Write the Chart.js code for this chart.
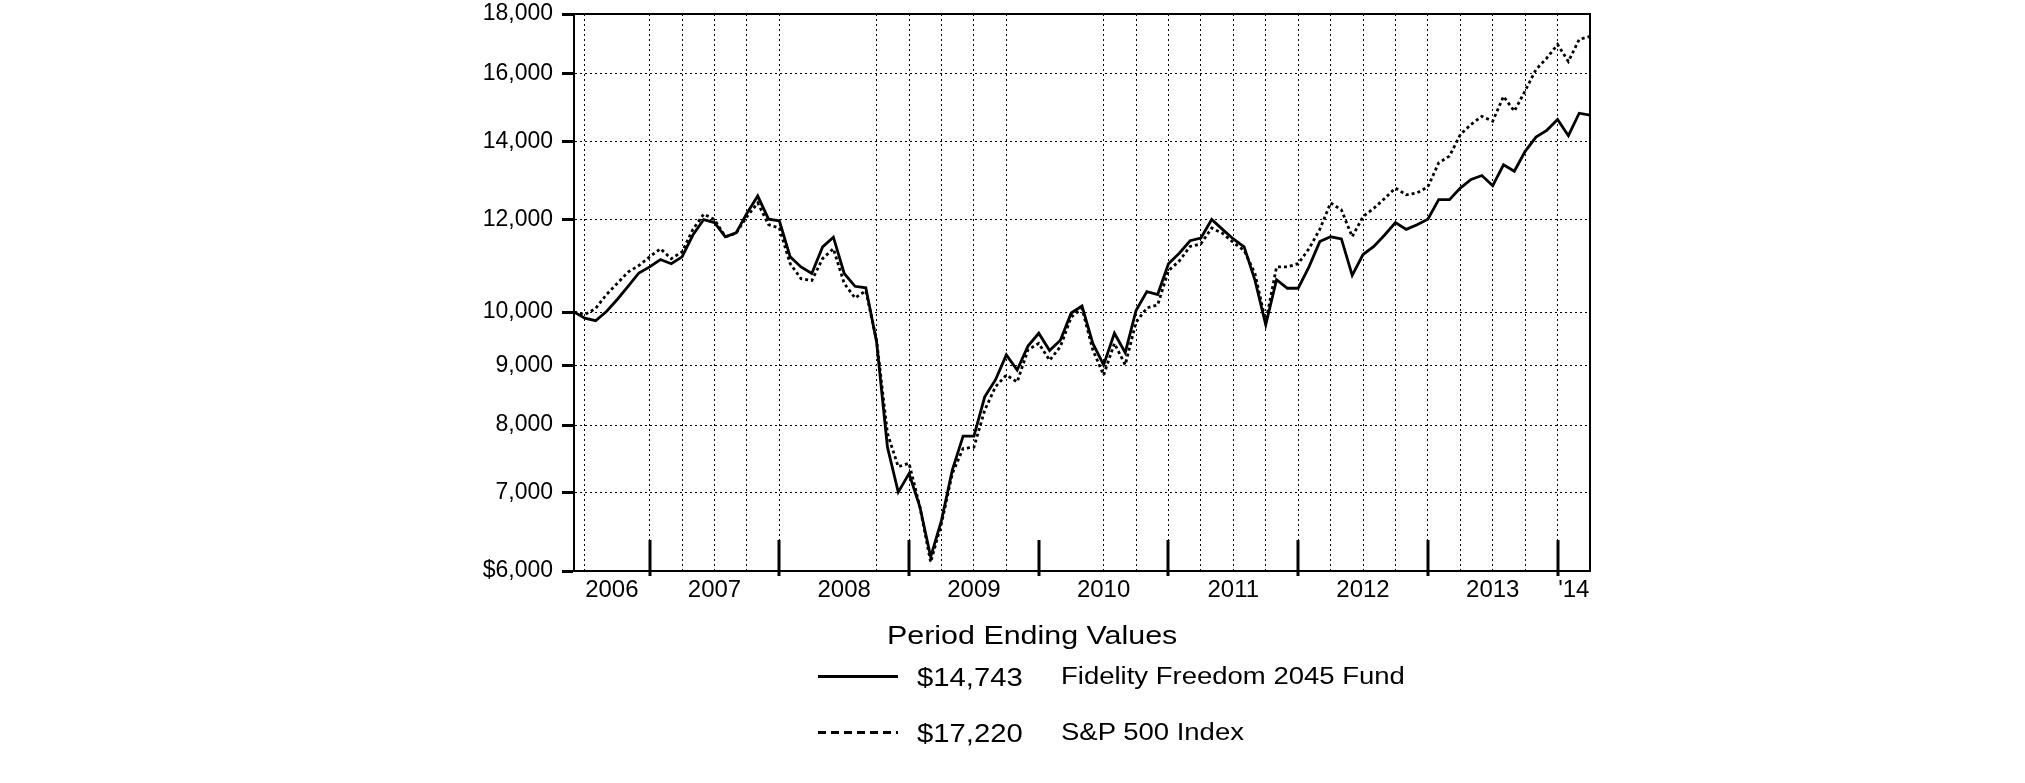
<!DOCTYPE html>
<html>
<head>
<meta charset="utf-8">
<script src="https://cdn.jsdelivr.net/npm/chart.js@4.4.1/dist/chart.umd.min.js"></script>
<style>
html,body{margin:0;padding:0;background:#fff;}
#wrap{position:relative;width:2025px;height:783px;overflow:hidden;background:#fff;}
#c{position:absolute;left:0;top:0;}
.lg{position:absolute;font-family:"Liberation Sans",Arial,sans-serif;color:#000;white-space:nowrap;line-height:1;transform-origin:0 50%;transform:scaleX(1.17);}
.sample{position:absolute;height:3px;}
</style>
</head>
<body>
<div id="wrap">
<canvas id="c" width="2025" height="783"></canvas>
<div class="lg" id="lgTitle"></div>
<div class="sample" id="s0"></div><div class="lg" id="v0"></div><div class="lg" id="n0"></div>
<div class="sample" id="s1"></div><div class="lg" id="v1"></div><div class="lg" id="n1"></div>
</div>
<script>
// Months run from May 2006 (index 0) to Mar 2014 (index 94), month-end values of a $10,000 investment
const seriesNames = ['Fidelity Freedom 2045 Fund', 'S&P 500 Index'];
const endingValues = ['$14,743', '$17,220'];
const legendTitle = 'Period Ending Values';

const fundValues = [
  10000, 9880, 9830, 10010, 10250, 10520, 10800, 10930, 11090, 11000,
  11150, 11640, 12000, 11930, 11600, 11690, 12150, 12570, 12010, 11970,
  11150, 10930, 10790, 11370, 11590, 10790, 10520, 10490, 9420, 7660,
  7010, 7270, 6810, 6170, 6630, 7320, 7830, 7830, 8460, 8750,
  9190, 8920, 9350, 9590, 9270, 9460, 9980, 10120, 9400, 9010,
  9590, 9230, 10030, 10410, 10350, 11000, 11230, 11510, 11570, 12000,
  11770, 11550, 11370, 10650, 9750, 10660, 10480, 10480, 10930, 11490,
  11600, 11550, 10750, 11200, 11380, 11640, 11930, 11770, 11880, 12010,
  12480, 12480, 12770, 12990, 13090, 12830, 13370, 13200, 13730, 14120,
  14310, 14620, 14160, 14800, 14743
];
const spValues = [
  10000, 9950, 10070, 10350, 10580, 10820, 10960, 11150, 11330, 11110,
  11260, 11770, 12130, 12000, 11600, 11680, 12070, 12400, 11880, 11800,
  11000, 10680, 10640, 11110, 11330, 10580, 10280, 10430, 9450, 7870,
  7370, 7420, 6810, 6105, 6590, 7270, 7640, 7660, 8240, 8630,
  8830, 8710, 9280, 9400, 9090, 9340, 9900, 10070, 9280, 8830,
  9400, 9010, 9800, 10080, 10140, 10850, 11060, 11380, 11440, 11800,
  11680, 11470, 11290, 10790, 9800, 10930, 10930, 11000, 11330, 11770,
  12400, 12230, 11600, 12070, 12270, 12510, 12770, 12600, 12650, 12800,
  13420, 13600, 14190, 14480, 14710, 14570, 15300, 14860, 15470, 16130,
  16500, 16950, 16390, 17120, 17220
];
const gridMonths = [1, 7, 10, 13, 16, 19, 28, 31, 34, 37, 40, 49, 52, 55, 58, 61, 64, 67, 70, 73, 76, 79, 82, 85, 88, 91];
const yearTickMonths = [7, 19, 31, 43, 55, 67, 79, 91];
const yearLabels = ['2006', '2007', '2008', '2009', '2010', '2011', '2012', '2013', "'14"];
const yearLabelMonths = [3.5, 13, 25, 37, 49, 61, 73, 85, 92.5];
const yTickValues = [6000, 7000, 8000, 9000, 10000, 12000, 14000, 16000, 18000];

const FONT = '"Liberation Sans", Arial, sans-serif';

const framePlugin = {
  id: 'frame',
  afterDraw(chart) {
    const c = chart.ctx, a = chart.chartArea, xs = chart.scales.x;
    c.save();
    c.strokeStyle = '#000';
    c.lineWidth = 2;
    c.strokeRect(a.left, a.top, a.right - a.left, a.bottom - a.top);
    c.lineWidth = 3;
    yearTickMonths.forEach(m => {
      const px = Math.round(xs.getPixelForValue(m));
      c.beginPath();
      c.moveTo(px, a.bottom - 31);
      c.lineTo(px, a.bottom + 5);
      c.stroke();
    });
    c.restore();
  }
};

new Chart(document.getElementById('c'), {
  type: 'line',
  data: {
    datasets: [
      { label: seriesNames[0], data: fundValues.map((v, i) => ({ x: i, y: v })),
        borderColor: '#000', borderWidth: 2.8, pointRadius: 0, tension: 0, fill: false },
      { label: seriesNames[1], data: spValues.map((v, i) => ({ x: i, y: v })),
        borderColor: '#000', borderWidth: 2.8, borderDash: [3, 3], pointRadius: 0, tension: 0, fill: false }
    ]
  },
  options: {
    responsive: false,
    animation: false,
    devicePixelRatio: 1,
    layout: { padding: { left: 0, right: 435, top: 14, bottom: 0 } },
    plugins: { legend: { display: false }, tooltip: { enabled: false } },
    scales: {
      x: {
        type: 'linear', position: 'bottom', weight: 0, min: 0, max: 94,
        afterBuildTicks: s => { s.ticks = gridMonths.map(v => ({ value: v })); },
        afterFit: s => { s.height = 0; },
        ticks: { display: false },
        grid: { color: '#000', lineWidth: 1, drawTicks: false },
        border: { display: true, color: '#000', width: 2, dash: [2, 3] }
      },
      xl: {
        type: 'linear', position: 'bottom', weight: 1, min: 0, max: 94,
        afterBuildTicks: s => { s.ticks = yearLabelMonths.map(v => ({ value: v })); },
        afterFit: s => { s.height = 212; },
        grid: { display: false, drawTicks: false },
        border: { display: false },
        ticks: { autoSkip: false, maxRotation: 0, color: '#000', padding: 5,
          font: { family: FONT, size: 24 },
          callback: (v, idx) => yearLabels[idx] }
      },
      y: {
        type: 'logarithmic', position: 'left', min: 6000, max: 18000,
        afterBuildTicks: s => { s.ticks = yTickValues.map(v => ({ value: v })); },
        afterFit: s => { s.width = 574; s.paddingTop = 0; s.paddingBottom = 0; },
        ticks: { autoSkip: false, color: '#000', padding: 9,
          font: { family: FONT, size: 23 },
          callback: v => (v === yTickValues[0] ? '$' : '') + Number(v).toLocaleString('en-US') },
        grid: { color: '#000', lineWidth: 1, drawTicks: true, tickLength: 12, tickWidth: 3, tickColor: '#000', tickBorderDash: [] },
        border: { display: true, color: '#000', width: 2, dash: [2, 3] }
      }
    }
  },
  plugins: [framePlugin]
});

// HTML legend (real text)
function place(id, text, left, centerY, size) {
  const el = document.getElementById(id);
  el.textContent = text;
  el.style.left = left + 'px';
  el.style.top = (centerY - size / 2) + 'px';
  el.style.fontSize = size + 'px';
}
place('lgTitle', legendTitle, 887, 635, 26);
const rowY = [677, 733];
rowY.forEach((y, k) => {
  place('v' + k, endingValues[k], 917, y, 25);
  place('n' + k, seriesNames[k], 1061, y, 23.5);
  const s = document.getElementById('s' + k);
  s.style.left = '818px'; s.style.width = '80px'; s.style.top = (y - 2) + 'px';
  s.style.background = k === 0 ? '#000' : 'repeating-linear-gradient(to right,#000 0 8px,transparent 8px 13px)';
});
</script>
</body>
</html>
